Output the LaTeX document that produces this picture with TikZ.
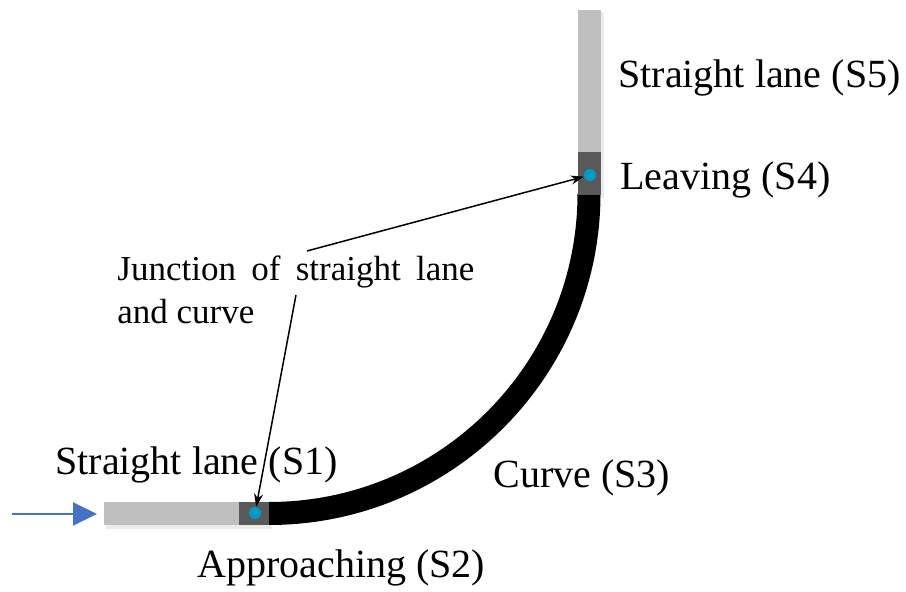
\documentclass[tikz,border=0pt]{standalone}
\usepackage{fontspec}
\setmainfont{Liberation Serif}
\usetikzlibrary{arrows.meta, positioning}
\definecolor{lanegray}{RGB}{191,191,191}
\definecolor{zonegray}{RGB}{89,89,89}
\definecolor{dotblue}{RGB}{0,155,200}
\definecolor{flowblue}{RGB}{68,114,196}

\begin{document}
\begin{tikzpicture}[
    x=0.5pt, y=-0.5pt,
    tag/.style={font=\fontsize{20}{24}\selectfont, inner sep=0pt, anchor=west},
    lane/.style={fill=lanegray},
    zone/.style={fill=zonegray},
    haze/.style={fill=black, opacity=0.08},
    spot/.style={circle, fill=dotblue, inner sep=0pt, minimum size=6pt},
    pointer/.style={-{Stealth[length=6.5pt, width=4.5pt]}, line width=0.75pt},
    flow/.style={-{Triangle[length=12pt, width=11.5pt]}, line width=1.1pt, draw=flowblue},
]
\useasboundingbox (0,0) rectangle (906,592);
% soft shadows
\fill[haze] (106,505) rectangle (272,529);
\fill[haze] (581,12) rectangle (604,198);
% the curve (S3)
\draw[line width=11.5pt] (269,513.5) arc[start angle=270, end angle=360, radius=160pt];
% straight lanes and junction zones
\fill[lane] (104,502) rectangle (239,525);
\fill[zone] (239,502) rectangle (269,525);
\fill[zone] (578,152) rectangle (601,195);
\fill[lane] (578,10) rectangle (601,152);
\node[spot] (s2dot) at (255,513) {};
\node[spot] (s4dot) at (590,175) {};
% labels
\node[tag] (s5) at (618,78) {Straight lane (S5)};
\node[tag] (s4) at (620,180) {Leaving (S4)};
\node[tag] (s1) at (55,465) {Straight lane (S1)};
\node[tag] (s3) at (493,478) {Curve (S3)};
\node[tag] (s2) at (197,568) {Approaching (S2)};
\node[font=\fontsize{17.5}{21.5}\selectfont, text width=178.5pt, align=justify,
      inner sep=0pt, anchor=north west] (junc) at (117,255)
     {Junction of straight lane and curve};
% pointers
\coordinate (j1) at (307,251);
\coordinate (j2) at (296,295);
\draw[pointer] (j1) -- (s4dot);
\draw[pointer] (j2) -- (s2dot);
% driving direction
\coordinate (entry) at (12,514);
\coordinate (laneend) at (97,514);
\draw[flow] (entry) -- (laneend);
\end{tikzpicture}
\end{document}
